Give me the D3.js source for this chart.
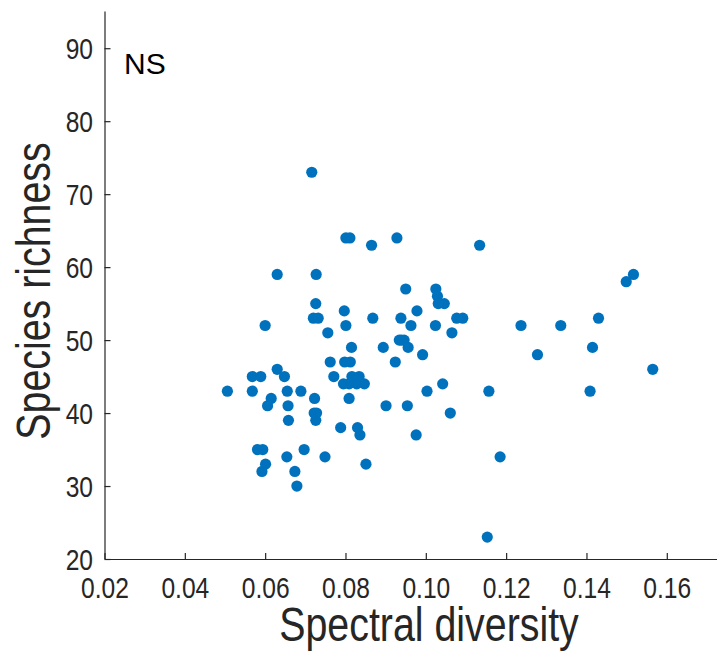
<!DOCTYPE html>
<html>
<head>
<meta charset="utf-8">
<script src="https://cdn.jsdelivr.net/npm/d3@7"></script>
<style>
  body { margin: 0; background: #fff; }
  svg { display: block; font-family: "Liberation Sans", Arial, sans-serif; }
</style>
</head>
<body>
<div class="chart"></div>
<script>
// spectral diversity (x) and species richness (y)
const diversity = [
  0.0716, 0.0801, 0.0811, 0.0865, 0.0928, 0.0630, 0.0727, 0.0726, 0.0720, 0.0732,
  0.0797, 0.0868, 0.0938, 0.0600, 0.0801, 0.0756, 0.0815, 0.0894, 0.0934, 0.0762,
  0.0798, 0.0812, 0.0924, 0.0630, 0.0568, 0.0589, 0.0648, 0.0771, 0.0816, 0.0834,
  0.0795, 0.0809, 0.0828, 0.0847, 0.0506, 0.0568, 0.0655, 0.0689, 0.0615, 0.0723,
  0.0809, 0.0606, 0.0657, 0.0901, 0.0722, 0.0728, 0.0726, 0.0658, 0.0788, 0.0830,
  0.0836, 0.0581, 0.0594, 0.0697, 0.0654, 0.0749, 0.0601, 0.0851, 0.0592, 0.0674,
  0.0679, 0.1134, 0.0950, 0.1025, 0.1029, 0.1031, 0.1046, 0.0978, 0.1077, 0.1092,
  0.0963, 0.1024, 0.1237, 0.1336, 0.1065, 0.0939, 0.0946, 0.0956, 0.0992, 0.1278,
  0.1042, 0.1003, 0.1157, 0.0954, 0.1061, 0.0976, 0.1185, 0.1153, 0.1517, 0.1499,
  0.1430, 0.1415, 0.1565, 0.1409
];
const richness = [
  73, 64, 64, 63, 64, 59, 59, 55, 53, 53,
  54, 53, 53, 52, 52, 51, 49, 49, 50, 47,
  47, 47, 47, 46, 45, 45, 45, 45, 45, 45,
  44, 44, 44, 44, 43, 43, 43, 43, 42, 42,
  42, 41, 41, 41, 40, 40, 39, 39, 38, 38,
  37, 35, 35, 35, 34, 34, 33, 33, 32, 32,
  30, 63, 57, 57, 56, 55, 55, 54, 53, 53,
  52, 52, 52, 52, 51, 50, 50, 49, 48, 48,
  44, 43, 43, 41, 40, 37, 34, 23, 59, 58,
  53, 49, 46, 43
];
const xTicks = [0.02, 0.04, 0.06, 0.08, 0.10, 0.12, 0.14, 0.16];
const yTicks = [20, 30, 40, 50, 60, 70, 80, 90];

const dims = { width: 717, height: 656 };
const axisColor = '#262626';
const squeeze = 0.82;

const svg = d3.select('.chart')
  .append('svg')
  .attr('width', dims.width)
  .attr('height', dims.height);

const x = d3.scaleLinear().domain([0.02, 0.1725]).range([104.5, 717]);
const y = d3.scaleLinear().domain([20, 95.1]).range([559, 11]);

const xAxis = svg.append('g')
  .attr('transform', `translate(0, ${y(20)})`)
  .call(d3.axisBottom(x).tickValues(xTicks).tickSizeInner(-6).tickSizeOuter(0)
    .tickFormat(d3.format('.2f')));

const yAxis = svg.append('g')
  .attr('transform', `translate(${x(0.02)}, 0)`)
  .call(d3.axisLeft(y).tickValues(yTicks).tickSizeInner(-6).tickSizeOuter(0));

[xAxis, yAxis].forEach(g => {
  g.select('.domain').attr('stroke', axisColor).attr('stroke-width', 1.2);
  g.selectAll('.tick line').attr('stroke', axisColor).attr('stroke-width', 1.2);
  g.selectAll('.tick text')
    .attr('fill', axisColor)
    .attr('font-size', 30)
    .attr('font-family', '"Liberation Sans", Arial, sans-serif');
});

xAxis.selectAll('.tick text')
  .attr('y', 39)
  .attr('dy', 0)
  .attr('transform', `scale(${squeeze}, 1)`);

yAxis.selectAll('.tick text')
  .attr('x', -11.5 / squeeze)
  .attr('dy', '0.35em')
  .attr('transform', `scale(${squeeze}, 1)`);

svg.append('g')
  .selectAll('circle')
  .data(diversity.map((d, i) => ({ x: d, y: richness[i] })))
  .enter()
  .append('circle')
  .attr('cx', d => x(d.x))
  .attr('cy', d => y(d.y))
  .attr('r', 5.6)
  .attr('fill', '#0072BD');

svg.append('text')
  .attr('transform', `translate(429, 641) scale(${squeeze}, 1)`)
  .attr('text-anchor', 'middle')
  .attr('font-size', 48)
  .attr('fill', axisColor)
  .text('Spectral diversity');

svg.append('text')
  .attr('transform', `translate(50, 291) rotate(-90) scale(${squeeze}, 1)`)
  .attr('text-anchor', 'middle')
  .attr('font-size', 48)
  .attr('fill', axisColor)
  .text('Species richness');

svg.append('text')
  .attr('x', 124)
  .attr('y', 74)
  .attr('font-size', 30)
  .attr('fill', '#000')
  .text('NS');
</script>
</body>
</html>
